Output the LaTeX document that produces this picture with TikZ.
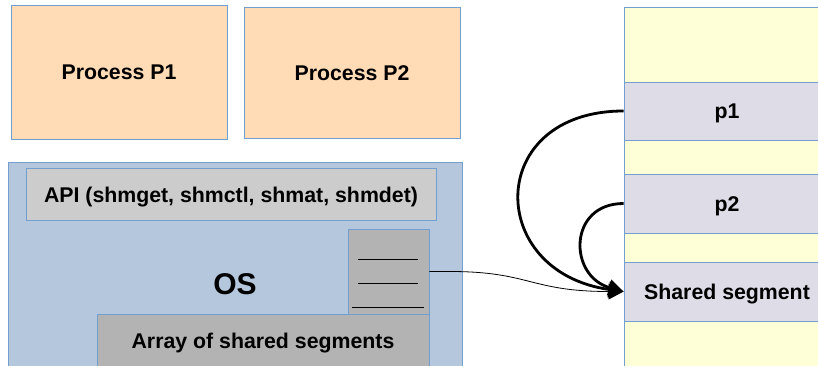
\documentclass[tikz,border=0pt]{standalone}
\usepackage{fontspec}
\setmainfont{Liberation Sans}
\usetikzlibrary{arrows.meta}
\definecolor{bord}{HTML}{729FCF}
\definecolor{procfill}{HTML}{FFDBB6}
\definecolor{osfill}{HTML}{B4C7DC}
\definecolor{apifill}{HTML}{CCCCCC}
\definecolor{arrfill}{HTML}{B3B3B3}
\definecolor{ylw}{HTML}{FFFFD7}
\definecolor{lav}{HTML}{DEDCE6}
\tikzset{
  box/.style={draw=bord, line width=0.9pt, inner sep=0pt, text height=16pt, text depth=0pt, font=\bfseries\fontsize{21.3}{25}\selectfont},
  procbox/.style={box, fill=procfill},
  osbox/.style={box, fill=osfill},
  apibox/.style={box, fill=apifill},
  arrbox/.style={box, fill=arrfill},
  ylwbox/.style={box, fill=ylw, minimum width=206pt},
  lavbox/.style={box, fill=lav, minimum width=206pt},
  lbl/.style={inner sep=0pt, text height=16pt, text depth=0pt, font=\bfseries\fontsize{21.3}{25}\selectfont},
  biglbl/.style={inner sep=0pt, font=\bfseries\fontsize{30}{35}\selectfont},
  bigarrow/.style={line width=2.8pt, -{Triangle[length=15pt,width=16pt]}},
  thinarrow/.style={line width=0.8pt, -{Triangle[length=15pt,width=16pt]}},
  stackline/.style={line width=1pt, black}
}
\begin{document}
\begin{tikzpicture}[x=1pt,y=-1pt]
\useasboundingbox (0,0) rectangle (818,366);
\clip (0,0) rectangle (818,366);
\fill[white] (0,0) rectangle (818,366);
% processes
\node[procbox, minimum width=216pt, minimum height=134pt] (pp1) at (119,72) {Process P1};
\node[procbox, minimum width=216pt, minimum height=131pt] (pp2) at (352,72.5) {Process P2};
% OS
\node[osbox, minimum width=454pt, minimum height=230pt] (os) at (235,277) {};
\node[biglbl] (oslbl) at (235,284) {OS};
\node[apibox, minimum width=410pt, minimum height=52pt] (api) at (231,194) {API (shmget, shmctl, shmat, shmdet)};
\node[arrbox, minimum width=81pt, minimum height=85pt] (stack) at (388.5,271.5) {};
\draw[stackline] (358,259) -- (418,259);
\draw[stackline] (358,283) -- (418,283);
\draw[stackline] (352,307) -- (424,307);
\node[arrbox, minimum width=332pt, minimum height=80pt] (arr) at (263,354) {};
\node[lbl] (arrlbl) at (263,340) {Array of shared segments};
% right column
\node[ylwbox, minimum height=75pt] (c0) at (727,44.5) {};
\node[lavbox, minimum height=58pt] (p1) at (727,111) {p1};
\node[ylwbox, minimum height=34pt] (c1) at (727,157) {};
\node[lavbox, minimum height=59pt] (p2) at (727,203.5) {p2};
\node[ylwbox, minimum height=29pt] (c2) at (727,247.5) {};
\node[lavbox, minimum height=59pt] (shared) at (727,291.5) {Shared segment};
\node[ylwbox, minimum height=60pt] (c3) at (727,351) {};
% arrows
\draw[thinarrow] (stack.east) -- (450,271.5) .. controls (530,271.5) and (530,291.5) .. (shared.west);
\draw[bigarrow] (p1.west) .. controls (485,111) and (485,272) .. (shared.west);
\draw[bigarrow] (p2.west) .. controls (568,203.5) and (568,276) .. (shared.west);
\end{tikzpicture}
\end{document}
